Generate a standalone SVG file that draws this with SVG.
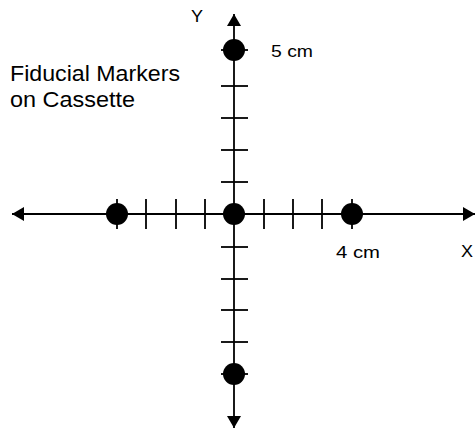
<svg xmlns="http://www.w3.org/2000/svg" width="475" height="430" viewBox="0 0 475 430">
<style>
.axis{stroke:#000;stroke-width:1.8;fill:none}
.tick{stroke:#000;stroke-width:1.8}
.dot{fill:#000}
.lbl{font-family:"Liberation Sans",Arial,sans-serif;fill:#000}
</style>
<defs>
<marker id="arr" viewBox="0 0 12 14" refX="12" refY="7" markerWidth="12" markerHeight="14" markerUnits="userSpaceOnUse" orient="auto">
<path d="M0,0 L12,7 L0,14 Z" fill="#000"/>
</marker>
</defs>
<rect width="475" height="430" fill="#fff"/>
<g id="connectors">
<line class="axis" x1="234" y1="214" x2="234" y2="14" marker-end="url(#arr)"/>
<line class="axis" x1="234" y1="214" x2="234" y2="428" marker-end="url(#arr)"/>
<line class="axis" x1="234" y1="214" x2="12" y2="214" marker-end="url(#arr)"/>
<line class="axis" x1="234" y1="214" x2="475" y2="214" marker-end="url(#arr)"/>
</g>
<g id="ticks">
<line class="tick" x1="221" y1="50" x2="248" y2="50"/>
<line class="tick" x1="221" y1="86" x2="248" y2="86"/>
<line class="tick" x1="221" y1="118" x2="248" y2="118"/>
<line class="tick" x1="221" y1="150" x2="248" y2="150"/>
<line class="tick" x1="221" y1="182" x2="248" y2="182"/>
<line class="tick" x1="221" y1="247" x2="248" y2="247"/>
<line class="tick" x1="221" y1="279" x2="248" y2="279"/>
<line class="tick" x1="221" y1="310" x2="248" y2="310"/>
<line class="tick" x1="221" y1="342" x2="248" y2="342"/>
<line class="tick" x1="221" y1="374" x2="248" y2="374"/>
<line class="tick" x1="117" y1="199" x2="117" y2="229"/>
<line class="tick" x1="146" y1="199" x2="146" y2="229"/>
<line class="tick" x1="176" y1="199" x2="176" y2="229"/>
<line class="tick" x1="205" y1="199" x2="205" y2="229"/>
<line class="tick" x1="264" y1="199" x2="264" y2="229"/>
<line class="tick" x1="293" y1="199" x2="293" y2="229"/>
<line class="tick" x1="322" y1="199" x2="322" y2="229"/>
<line class="tick" x1="352" y1="199" x2="352" y2="229"/>
</g>
<g id="marker-top"><circle class="dot" cx="234" cy="50" r="11"/></g>
<g id="marker-center"><circle class="dot" cx="234" cy="214" r="11"/></g>
<g id="marker-left"><circle class="dot" cx="117" cy="214" r="11"/></g>
<g id="marker-right"><circle class="dot" cx="352" cy="214" r="11"/></g>
<g id="marker-bottom"><circle class="dot" cx="234" cy="374" r="11"/></g>
<g id="title">
<text class="lbl" x="10" y="81" font-size="22" textLength="170" lengthAdjust="spacingAndGlyphs">Fiducial Markers</text>
<text class="lbl" x="10" y="107" font-size="22" textLength="125" lengthAdjust="spacingAndGlyphs">on Cassette</text>
</g>
<g id="axis-labels">
<text class="lbl" x="191" y="22" font-size="16" textLength="12" lengthAdjust="spacingAndGlyphs">Y</text>
<text class="lbl" x="461" y="257" font-size="16" textLength="12" lengthAdjust="spacingAndGlyphs">X</text>
<text class="lbl" x="271" y="57" font-size="16" textLength="42" lengthAdjust="spacingAndGlyphs">5 cm</text>
<text class="lbl" x="336" y="258" font-size="16" textLength="44" lengthAdjust="spacingAndGlyphs">4 cm</text>
</g>
</svg>
